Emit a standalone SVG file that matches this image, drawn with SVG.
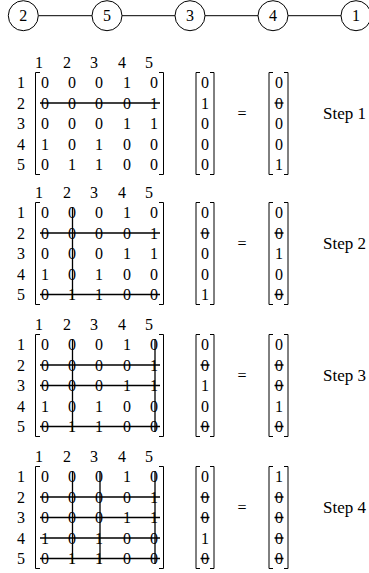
<svg xmlns="http://www.w3.org/2000/svg" width="369" height="573" viewBox="0 0 369 573">
<defs>
<g id="mframe">
<text font-family="Liberation Serif" font-size="16" text-anchor="middle" x="39" y="67.5">1</text><text font-family="Liberation Serif" font-size="16" text-anchor="middle" x="67" y="67.5">2</text><text font-family="Liberation Serif" font-size="16" text-anchor="middle" x="94" y="67.5">3</text><text font-family="Liberation Serif" font-size="16" text-anchor="middle" x="122" y="67.5">4</text><text font-family="Liberation Serif" font-size="16" text-anchor="middle" x="149" y="67.5">5</text>
<text font-family="Liberation Serif" font-size="16" text-anchor="middle" x="21" y="88">1</text><text font-family="Liberation Serif" font-size="16" text-anchor="middle" x="21" y="108.5">2</text><text font-family="Liberation Serif" font-size="16" text-anchor="middle" x="21" y="129">3</text><text font-family="Liberation Serif" font-size="16" text-anchor="middle" x="21" y="149.5">4</text><text font-family="Liberation Serif" font-size="16" text-anchor="middle" x="21" y="170">5</text>
<path fill="none" stroke="#000" stroke-width="1" d="M40,72.5H35.5V174.5H40M159,72.5H163.5V174.5H159"/>
<text font-family="Liberation Serif" font-size="16" text-anchor="middle" x="45" y="88">0</text><text font-family="Liberation Serif" font-size="16" text-anchor="middle" x="72" y="88">0</text><text font-family="Liberation Serif" font-size="16" text-anchor="middle" x="99" y="88">0</text><text font-family="Liberation Serif" font-size="16" text-anchor="middle" x="127" y="88">1</text><text font-family="Liberation Serif" font-size="16" text-anchor="middle" x="154" y="88">0</text>
<text font-family="Liberation Serif" font-size="16" text-anchor="middle" x="45" y="108.5">0</text><text font-family="Liberation Serif" font-size="16" text-anchor="middle" x="72" y="108.5">0</text><text font-family="Liberation Serif" font-size="16" text-anchor="middle" x="99" y="108.5">0</text><text font-family="Liberation Serif" font-size="16" text-anchor="middle" x="127" y="108.5">0</text><text font-family="Liberation Serif" font-size="16" text-anchor="middle" x="154" y="108.5">1</text>
<text font-family="Liberation Serif" font-size="16" text-anchor="middle" x="45" y="129">0</text><text font-family="Liberation Serif" font-size="16" text-anchor="middle" x="72" y="129">0</text><text font-family="Liberation Serif" font-size="16" text-anchor="middle" x="99" y="129">0</text><text font-family="Liberation Serif" font-size="16" text-anchor="middle" x="127" y="129">1</text><text font-family="Liberation Serif" font-size="16" text-anchor="middle" x="154" y="129">1</text>
<text font-family="Liberation Serif" font-size="16" text-anchor="middle" x="45" y="149.5">1</text><text font-family="Liberation Serif" font-size="16" text-anchor="middle" x="72" y="149.5">0</text><text font-family="Liberation Serif" font-size="16" text-anchor="middle" x="99" y="149.5">1</text><text font-family="Liberation Serif" font-size="16" text-anchor="middle" x="127" y="149.5">0</text><text font-family="Liberation Serif" font-size="16" text-anchor="middle" x="154" y="149.5">0</text>
<text font-family="Liberation Serif" font-size="16" text-anchor="middle" x="45" y="170">0</text><text font-family="Liberation Serif" font-size="16" text-anchor="middle" x="72" y="170">1</text><text font-family="Liberation Serif" font-size="16" text-anchor="middle" x="99" y="170">1</text><text font-family="Liberation Serif" font-size="16" text-anchor="middle" x="127" y="170">0</text><text font-family="Liberation Serif" font-size="16" text-anchor="middle" x="154" y="170">0</text>
<path fill="none" stroke="#000" stroke-width="1" d="M200,72.5H196V174.5H200M210,72.5H214V174.5H210"/>
<text font-family="Liberation Serif" font-size="16" text-anchor="middle" x="242" y="118.5">=</text>
<path fill="none" stroke="#000" stroke-width="1" d="M273,72.5H269V174.5H273M284,72.5H288V174.5H284"/>
</g>
</defs>

<g id="connectors" stroke="#000" stroke-width="1">
<line x1="38.3" y1="15.7" x2="92" y2="15.7" stroke="#000"/>
<line x1="122" y1="15.7" x2="175" y2="15.7" stroke="#000"/>
<line x1="205" y1="15.7" x2="258" y2="15.7" stroke="#000"/>
<line x1="288" y1="15.7" x2="341" y2="15.7" stroke="#000"/>
</g>
<g id="node2"><circle fill="#fff" stroke="#000" stroke-width="1" cx="23.3" cy="15.7" r="15"/><text font-family="Liberation Serif" font-size="16" text-anchor="middle" x="23.3" y="21.2">2</text></g>
<g id="node5"><circle fill="#fff" stroke="#000" stroke-width="1" cx="107" cy="15.7" r="15"/><text font-family="Liberation Serif" font-size="16" text-anchor="middle" x="107" y="21.2">5</text></g>
<g id="node3"><circle fill="#fff" stroke="#000" stroke-width="1" cx="190" cy="15.7" r="15"/><text font-family="Liberation Serif" font-size="16" text-anchor="middle" x="190" y="21.2">3</text></g>
<g id="node4"><circle fill="#fff" stroke="#000" stroke-width="1" cx="273" cy="15.7" r="15"/><text font-family="Liberation Serif" font-size="16" text-anchor="middle" x="273" y="21.2">4</text></g>
<g id="node1"><circle fill="#fff" stroke="#000" stroke-width="1" cx="356" cy="15.7" r="15"/><text font-family="Liberation Serif" font-size="16" text-anchor="middle" x="356" y="21.2">1</text></g>

<g id="step1">
<use href="#mframe"/>
<path fill="none" stroke="#000" stroke-width="1.3" d="M40,103H160"/>
<text font-family="Liberation Serif" font-size="16" text-anchor="middle" x="205" y="88">0</text><text font-family="Liberation Serif" font-size="16" text-anchor="middle" x="205" y="108.5">1</text><text font-family="Liberation Serif" font-size="16" text-anchor="middle" x="205" y="129">0</text><text font-family="Liberation Serif" font-size="16" text-anchor="middle" x="205" y="149.5">0</text><text font-family="Liberation Serif" font-size="16" text-anchor="middle" x="205" y="170">0</text>
<text font-family="Liberation Serif" font-size="16" text-anchor="middle" x="279" y="88">0</text><text font-family="Liberation Serif" font-size="16" text-anchor="middle" x="279" y="108.5">0</text><text font-family="Liberation Serif" font-size="16" text-anchor="middle" x="279" y="129">0</text><text font-family="Liberation Serif" font-size="16" text-anchor="middle" x="279" y="149.5">0</text><text font-family="Liberation Serif" font-size="16" text-anchor="middle" x="279" y="170">1</text>
<path fill="none" stroke="#000" stroke-width="1.3" d="M274.5,103H283.5"/>
<text font-family="Liberation Serif" font-size="17" x="323" y="118.5">Step 1</text>
</g>

<g id="step2" transform="translate(0,130)">
<use href="#mframe"/>
<path fill="none" stroke="#000" stroke-width="1.3" d="M40,103H160M40,164.5H160M72.5,77V170"/>
<text font-family="Liberation Serif" font-size="16" text-anchor="middle" x="205" y="88">0</text><text font-family="Liberation Serif" font-size="16" text-anchor="middle" x="205" y="108.5">0</text><text font-family="Liberation Serif" font-size="16" text-anchor="middle" x="205" y="129">0</text><text font-family="Liberation Serif" font-size="16" text-anchor="middle" x="205" y="149.5">0</text><text font-family="Liberation Serif" font-size="16" text-anchor="middle" x="205" y="170">1</text>
<path fill="none" stroke="#000" stroke-width="1.3" d="M200.5,103H209.5"/>
<text font-family="Liberation Serif" font-size="16" text-anchor="middle" x="279" y="88">0</text><text font-family="Liberation Serif" font-size="16" text-anchor="middle" x="279" y="108.5">0</text><text font-family="Liberation Serif" font-size="16" text-anchor="middle" x="279" y="129">1</text><text font-family="Liberation Serif" font-size="16" text-anchor="middle" x="279" y="149.5">0</text><text font-family="Liberation Serif" font-size="16" text-anchor="middle" x="279" y="170">0</text>
<path fill="none" stroke="#000" stroke-width="1.3" d="M274.5,103H283.5M274.5,164.5H283.5"/>
<text font-family="Liberation Serif" font-size="17" x="323" y="118.5">Step 2</text>
</g>

<g id="step3" transform="translate(0,262)">
<use href="#mframe"/>
<path fill="none" stroke="#000" stroke-width="1.3" d="M40,103H160M40,123.5H160M40,164.5H160M72.5,77V170M155,77V170"/>
<text font-family="Liberation Serif" font-size="16" text-anchor="middle" x="205" y="88">0</text><text font-family="Liberation Serif" font-size="16" text-anchor="middle" x="205" y="108.5">0</text><text font-family="Liberation Serif" font-size="16" text-anchor="middle" x="205" y="129">1</text><text font-family="Liberation Serif" font-size="16" text-anchor="middle" x="205" y="149.5">0</text><text font-family="Liberation Serif" font-size="16" text-anchor="middle" x="205" y="170">0</text>
<path fill="none" stroke="#000" stroke-width="1.3" d="M200.5,103H209.5M200.5,164.5H209.5"/>
<text font-family="Liberation Serif" font-size="16" text-anchor="middle" x="279" y="88">0</text><text font-family="Liberation Serif" font-size="16" text-anchor="middle" x="279" y="108.5">0</text><text font-family="Liberation Serif" font-size="16" text-anchor="middle" x="279" y="129">0</text><text font-family="Liberation Serif" font-size="16" text-anchor="middle" x="279" y="149.5">1</text><text font-family="Liberation Serif" font-size="16" text-anchor="middle" x="279" y="170">0</text>
<path fill="none" stroke="#000" stroke-width="1.3" d="M274.5,103H283.5M274.5,123.5H283.5M274.5,164.5H283.5"/>
<text font-family="Liberation Serif" font-size="17" x="323" y="118.5">Step 3</text>
</g>

<g id="step4" transform="translate(0,394)">
<use href="#mframe"/>
<path fill="none" stroke="#000" stroke-width="1.3" d="M40,103H160M40,123.5H160M40,144H160M40,164.5H160M72.5,77V170M100,77V170M155,77V170"/>
<text font-family="Liberation Serif" font-size="16" text-anchor="middle" x="205" y="88">0</text><text font-family="Liberation Serif" font-size="16" text-anchor="middle" x="205" y="108.5">0</text><text font-family="Liberation Serif" font-size="16" text-anchor="middle" x="205" y="129">0</text><text font-family="Liberation Serif" font-size="16" text-anchor="middle" x="205" y="149.5">1</text><text font-family="Liberation Serif" font-size="16" text-anchor="middle" x="205" y="170">0</text>
<path fill="none" stroke="#000" stroke-width="1.3" d="M200.5,103H209.5M200.5,123.5H209.5M200.5,164.5H209.5"/>
<text font-family="Liberation Serif" font-size="16" text-anchor="middle" x="279" y="88">1</text><text font-family="Liberation Serif" font-size="16" text-anchor="middle" x="279" y="108.5">0</text><text font-family="Liberation Serif" font-size="16" text-anchor="middle" x="279" y="129">0</text><text font-family="Liberation Serif" font-size="16" text-anchor="middle" x="279" y="149.5">0</text><text font-family="Liberation Serif" font-size="16" text-anchor="middle" x="279" y="170">0</text>
<path fill="none" stroke="#000" stroke-width="1.3" d="M274.5,103H283.5M274.5,123.5H283.5M274.5,144H283.5M274.5,164.5H283.5"/>
<text font-family="Liberation Serif" font-size="17" x="323" y="118.5">Step 4</text>
</g>
</svg>
